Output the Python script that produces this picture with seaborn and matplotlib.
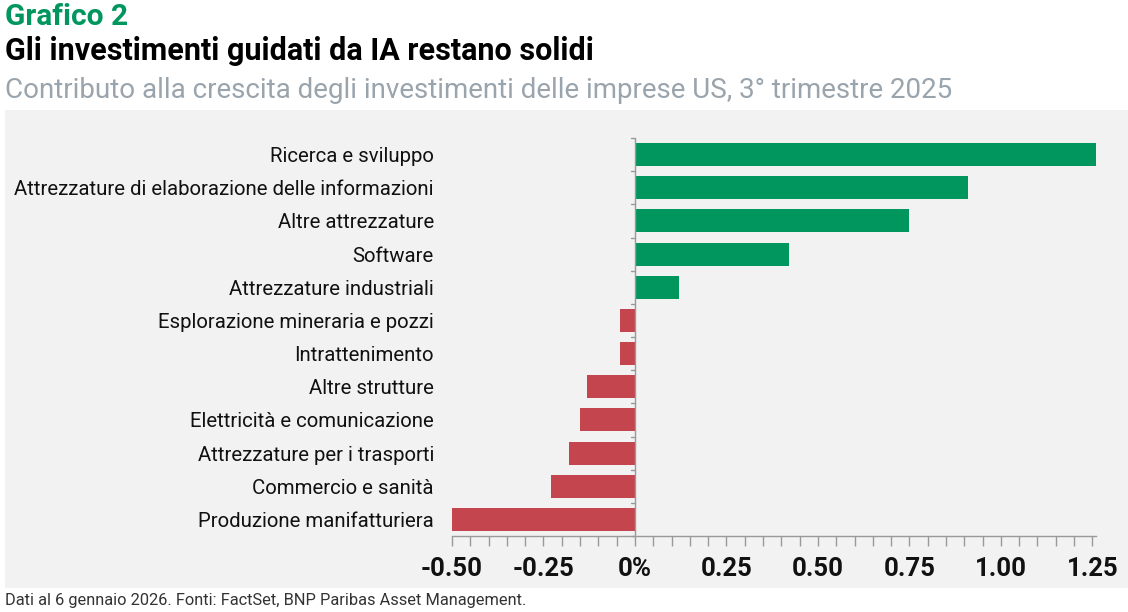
import matplotlib
matplotlib.use("Agg")
from matplotlib import pyplot as plt
from matplotlib.ticker import MultipleLocator, FuncFormatter
from matplotlib.patches import Rectangle
import numpy as np
import pandas as pd
import seaborn as sns

categories = [
    "Ricerca e sviluppo",
    "Attrezzature di elaborazione delle informazioni",
    "Altre attrezzature",
    "Software",
    "Attrezzature industriali",
    "Esplorazione mineraria e pozzi",
    "Intrattenimento",
    "Altre strutture",
    "Elettricità e comunicazione",
    "Attrezzature per i trasporti",
    "Commercio e sanità",
    "Produzione manifatturiera",
]
values = [1.26, 0.91, 0.75, 0.42, 0.12, -0.04, -0.04, -0.13, -0.15, -0.18, -0.23, -0.50]
tick_values = [-0.50, -0.25, 0.0, 0.25, 0.50, 0.75, 1.00, 1.25]

title_top = "Grafico 2"
title_main = "Gli investimenti guidati da IA restano solidi"
subtitle = "Contributo alla crescita degli investimenti delle imprese US, 3° trimestre 2025"
footer = "Dati al 6 gennaio 2026. Fonti: FactSet, BNP Paribas Asset Management."

GREEN = "#00965e"
RED = "#c4454d"
PANEL = "#f2f2f2"
AXIS = "#999999"

sns.set_theme(style="white")
plt.rcParams["font.family"] = ["Roboto", "DejaVu Sans"]

df = pd.DataFrame({"cat": categories, "val": values})
df["sign"] = np.where(df["val"] >= 0, "pos", "neg")

W, H = 1128, 612
fig = plt.figure(figsize=(W / 100, H / 100), dpi=100)
fig.patch.set_facecolor("white")

# grey panel behind the chart
panel = Rectangle((5 / W, 1 - 588 / H), (W - 5) / W, (588 - 110) / H,
                  transform=fig.transFigure, facecolor=PANEL, edgecolor="none", zorder=-5)
fig.patches.append(panel)

ax = fig.add_axes([452 / W, 1 - 536 / H, 644 / W, 398 / H])
ax.set_zorder(2)
ax.patch.set_alpha(0)

sns.barplot(data=df, x="val", y="cat", hue="sign", palette={"pos": GREEN, "neg": RED},
            order=categories, dodge=False, legend=False, width=0.69,
            saturation=1, linewidth=0, ax=ax)

ax.set_xlim(-0.5, 1.26)
ax.set_ylim(len(categories) - 0.5, -0.5)
ax.set_xlabel("")
ax.set_ylabel("")

for s in ["top", "right", "left"]:
    ax.spines[s].set_visible(False)
ax.spines["bottom"].set_color(AXIS)
ax.spines["bottom"].set_linewidth(1)

# vertical zero line with small separator ticks between categories
ax.axvline(0, color=AXIS, lw=1, zorder=3)
for b in np.arange(-0.5, len(categories) + 0.5, 1):
    ax.plot([-0.012, 0], [b, b], color=AXIS, lw=1, clip_on=False, zorder=3)

ax.set_xticks(tick_values)
ax.xaxis.set_minor_locator(MultipleLocator(0.05))
ax.xaxis.set_major_formatter(FuncFormatter(lambda v, p: "0%" if abs(v) < 1e-9 else f"{v:.2f}"))
ax.tick_params(axis="x", which="both", direction="out", color=AXIS, length=7,
               width=1, bottom=True, labelsize=18.5, pad=8, labelcolor="#111111")
ax.tick_params(axis="y", left=False, labelsize=14.7, pad=7, labelcolor="#111111")
for lab in ax.get_xticklabels():
    lab.set_fontweight("bold")

fig.text(5 / W, 1 - 17 / H, title_top, color=GREEN, fontsize=21.5, fontweight="bold", va="center")
fig.text(5 / W, 1 - 51 / H, title_main, color="black", fontsize=22, fontweight="bold", va="center")
fig.text(5 / W, 1 - 90 / H, subtitle, color="#9aa4ad", fontsize=20, va="center")
fig.text(5 / W, 1 - 601 / H, footer, color="#333333", fontsize=11.8, va="center")

fig.savefig("out.png", dpi=100, facecolor="white")
